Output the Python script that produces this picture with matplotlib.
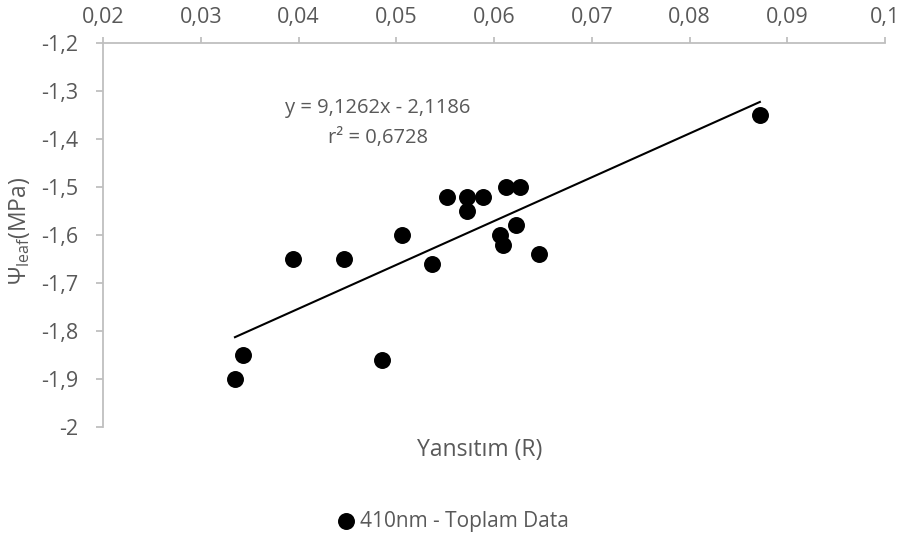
import numpy as np
import matplotlib
matplotlib.use("Agg")
import matplotlib.pyplot as plt

# reflectance at 410 nm vs leaf water potential
reflectance = [0.0335, 0.0343, 0.0394, 0.0447, 0.0485, 0.0506, 0.0537, 0.0552,
               0.0572, 0.0572, 0.0589, 0.0606, 0.0609, 0.0612, 0.0622, 0.0627,
               0.0646, 0.0872]
psi_leaf = [-1.90, -1.85, -1.65, -1.65, -1.86, -1.60, -1.66, -1.52,
            -1.52, -1.55, -1.52, -1.60, -1.62, -1.50, -1.58, -1.50,
            -1.64, -1.35]

# linear trend reported on the chart
slope = 9.1262
intercept = -2.1186
r2 = 0.6728

x_ticks = [0.02, 0.03, 0.04, 0.05, 0.06, 0.07, 0.08, 0.09, 0.1]
y_ticks = [-1.2, -1.3, -1.4, -1.5, -1.6, -1.7, -1.8, -1.9, -2.0]

grey_text = "#595959"
grey_axis = "#BFBFBF"

plt.rcParams["font.family"] = ["Open Sans", "DejaVu Sans"]
plt.rcParams["mathtext.fontset"] = "custom"
plt.rcParams["mathtext.rm"] = "Open Sans"
plt.rcParams["mathtext.it"] = "Open Sans:italic"


def comma(v):
    s = f"{v:g}"
    return s.replace(".", ",")


fig = plt.figure(figsize=(8.99, 5.35), dpi=100)
ax = fig.add_axes([103 / 899, 1 - 427 / 535, 782 / 899, 384 / 535])

ax.scatter(reflectance, psi_leaf, s=125, color="black", zorder=3,
           label="410nm - Toplam Data", clip_on=False)

xs = np.array([min(reflectance), max(reflectance)])
ax.plot(xs, slope * xs + intercept, color="black", lw=1.5, zorder=2)

ax.text(0.0481, -1.335, f"y = {comma(slope)}x - {comma(-intercept)}",
        ha="center", va="center", fontsize=14.5, color=grey_text)
ax.text(0.0481, -1.398, f"r² = {comma(r2)}",
        ha="center", va="center", fontsize=14.5, color=grey_text)

ax.set_xlim(0.02, 0.1)
ax.set_ylim(-2.0, -1.2)
ax.set_xticks(x_ticks)
ax.set_xticklabels([comma(v) for v in x_ticks])
ax.set_yticks(y_ticks)
ax.set_yticklabels([comma(v) for v in y_ticks])

ax.xaxis.tick_top()
ax.spines["bottom"].set_visible(False)
ax.spines["right"].set_visible(False)
ax.spines["top"].set_color(grey_axis)
ax.spines["left"].set_color(grey_axis)
ax.spines["top"].set_linewidth(1.3)
ax.spines["left"].set_linewidth(1.3)
ax.tick_params(axis="both", colors=grey_axis, labelcolor=grey_text,
               labelsize=15.5, width=1.3, direction="out")
ax.tick_params(axis="x", length=4.5, pad=6)
ax.tick_params(axis="y", length=5, pad=13)

fig.text(480 / 899, 1 - 450 / 535, "Yansıtım (R)", ha="center", va="center",
         fontsize=16.5, color=grey_text)
fig.text(20 / 899, 1 - 231 / 535, r"$\Psi_{\mathrm{leaf}}$(MPa)", rotation=90,
         ha="center", va="center", fontsize=16.5, color=grey_text)

leg = fig.legend(loc="center", bbox_to_anchor=(452 / 899, 1 - 521 / 535),
                 frameon=False, fontsize=15, handletextpad=0.15,
                 handlelength=1.0, markerscale=1.0)
for t in leg.get_texts():
    t.set_color(grey_text)

fig.savefig("out.png", dpi=100)
